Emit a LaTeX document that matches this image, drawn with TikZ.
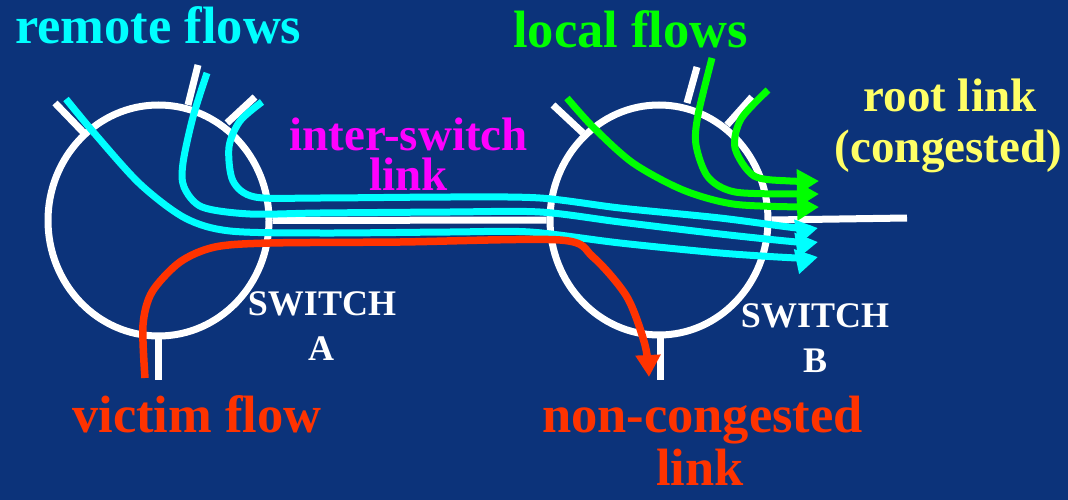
\documentclass[tikz,border=0pt]{standalone}
\usepackage{fontspec}
\setmainfont{Liberation Serif}
\usetikzlibrary{arrows.meta,shapes.geometric}
\definecolor{bg}{RGB}{12,51,122}
\definecolor{flowcyan}{RGB}{0,255,255}
\definecolor{flowgreen}{RGB}{0,255,0}
\definecolor{flowred}{RGB}{255,51,0}
\definecolor{labelmagenta}{RGB}{255,0,255}
\definecolor{labelyellow}{RGB}{255,255,102}
\tikzset{
  switchbody/.style={draw=white, line width=7pt, ellipse, inner sep=0pt},
  port/.style={draw=white, line width=7pt},
  flow/.style={line width=7pt, line cap=butt, line join=round,
    -{Triangle[length=22pt,width=24pt]}},
  cyanflow/.style={flow, flowcyan},
  greenflow/.style={flow, flowgreen},
  redflow/.style={flow, flowred, line width=7.5pt},
  biglabel/.style={font=\bfseries\fontsize{52.5}{60}\selectfont, inner sep=0pt},
  midlabel/.style={font=\bfseries\fontsize{47}{54}\selectfont, inner sep=0pt},
  swlabel/.style={font=\bfseries\fontsize{36}{40}\selectfont, text=white, inner sep=0pt, anchor=base},
}
\begin{document}
\begin{tikzpicture}[x=1pt,y=-1pt]
  % page
  \fill[bg] (0,0) rectangle (1068,500);
  \useasboundingbox (0,0) rectangle (1068,500);

  % the two switches
  \node[switchbody, minimum width=221pt, minimum height=231pt] (swA) at (158.5,220.5) {};
  \node[switchbody, minimum width=218pt, minimum height=230pt] (swB) at (659,220) {};

  % ports of switch A
  \draw[port] (55,103) -- (83,132);
  \draw[port] (198,65) -- (188,105);
  \draw[port] (255,97) -- (227,123);
  \draw[port] (158,338) -- (158,380);
  % ports of switch B
  \draw[port] (553,105) -- (583,133);
  \draw[port] (697,67) -- (687,103);
  \draw[port] (752,97) -- (727,125);
  \draw[port] (660,337) -- (660,380);

  % inter-switch link and root link
  \coordinate (rootEnd) at (907,218);
  \draw[port] (swA.east) -- (swB.west);
  \draw[port] (swB.east) -- (rootEnd);

  % remote flows from switch A to the root link
  \draw[cyanflow] plot[smooth] coordinates {(66,99) (95,134) (140,184) (185,218) (230,231) (320,233) (450,232) (530,232) (620,243) (720,253) (797,258) (818,257)};
  \draw[cyanflow] plot[smooth] coordinates {(207,73) (193,117) (183,163) (184,187) (202,207) (250,214) (320,213) (450,212) (540,212) (620,222) (720,234) (797,242) (818,242)};
  \draw[cyanflow] plot[smooth] coordinates {(262,102) (240,121) (229,147) (233,181) (255,197) (320,198) (450,197) (540,198) (620,208) (720,218) (797,228) (818,228)};

  % local flows entering switch B
  \draw[greenflow] plot[smooth] coordinates {(567,98) (593,127) (633,163) (683,190) (733,204) (797,207) (819,207)};
  \draw[greenflow] plot[smooth] coordinates {(712,58) (698,115) (696,145) (708,177) (735,192) (797,194) (819,194)};
  \draw[greenflow] plot[smooth] coordinates {(768,90) (741,119) (735,148) (754,176) (790,181) (819,181)};

  % victim flow towards the non-congested link
  \draw[redflow] plot[smooth] coordinates {(145,378) (143,325) (152,292) (180,262) (215,247) (270,243) (400,242) (560,240) (593,257) (627,297) (645,345) (649,377)};

  % labels
  \node[biglabel, text=flowcyan, anchor=base west] (remote) at (15,44) {remote flows};
  \node[biglabel, text=flowgreen, anchor=base west] (local) at (513,48) {local flows};
  \node[midlabel, text=labelmagenta, anchor=base] (isl1) at (408.5,150) {inter-switch};
  \node[midlabel, text=labelmagenta, anchor=base] (isl2) at (408.5,190) {link};
  \node[midlabel, text=labelyellow, anchor=base] (root1) at (950,112) {root link};
  \node[midlabel, text=labelyellow, anchor=base] (root2) at (948.5,163) {(congested)};
  \node[swlabel] (swAt1) at (322,315) {SWITCH};
  \node[swlabel] (swAt2) at (321,360) {A};
  \node[swlabel] (swBt1) at (815,327) {SWITCH};
  \node[swlabel] (swBt2) at (815,372) {B};
  \node[biglabel, text=flowred, anchor=base west] (victim) at (72,432) {victim flow};
  \node[biglabel, text=flowred, anchor=base] (nc1) at (702.5,432) {non-congested};
  \node[biglabel, text=flowred, anchor=base] (nc2) at (700,485) {link};
\end{tikzpicture}
\end{document}
